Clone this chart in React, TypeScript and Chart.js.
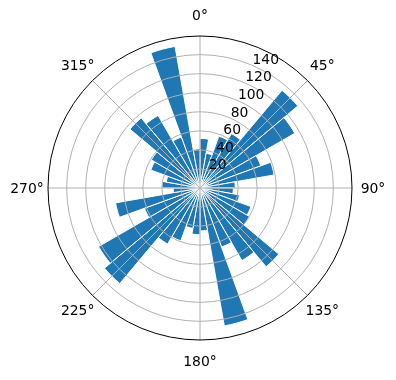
import React, { useEffect, useRef } from "react";
import { Chart, registerables } from "chart.js";

Chart.register(...registerables);

// Bin start angles (degrees), 10° wide bins, clockwise from north
const binStarts: number[] = Array.from({ length: 36 }, (_, i) => i * 10);
const categories: string[] = binStarts.map((d) => `${d}°`);

// Bar lengths
const counts: number[] = [
  52, 37, 58, 66, 134, 115, 68, 79, 37, 35, 42, 57,
  60, 108, 88, 66, 147, 45, 49, 43, 59, 68, 131, 123,
  62, 90, 28, 40, 36, 55, 59, 96, 88, 57, 151, 41,
];

const radialTicks: number[] = [20, 40, 60, 80, 100, 120, 140];
const angleTicks: number[] = [0, 45, 90, 135, 180, 225, 270, 315];
const angleTickLabels: string[] = angleTicks.map((a) => `${a}°`);
const rMax = 159.6;

const FONT = '13.9px "DejaVu Sans"';

const overlayPlugin = {
  id: "polarOverlay",
  afterDatasetsDraw(chart: any) {
    const scale = chart.scales.r;
    const ctx = chart.ctx as CanvasRenderingContext2D;
    const cx = scale.xCenter;
    const cy = scale.yCenter;
    const R = scale.getDistanceFromCenterForValue(rMax);
    ctx.save();
    // radial grid circles
    ctx.strokeStyle = "#b0b0b0";
    ctx.lineWidth = 1;
    for (const v of radialTicks) {
      const r = scale.getDistanceFromCenterForValue(v);
      ctx.beginPath();
      ctx.arc(cx, cy, r, 0, Math.PI * 2);
      ctx.stroke();
    }
    // angular grid spokes
    for (const a of angleTicks) {
      const t = (a * Math.PI) / 180;
      ctx.beginPath();
      ctx.moveTo(cx, cy);
      ctx.lineTo(cx + R * Math.sin(t), cy - R * Math.cos(t));
      ctx.stroke();
    }
    // outer spine
    ctx.strokeStyle = "#000000";
    ctx.lineWidth = 1;
    ctx.beginPath();
    ctx.arc(cx, cy, R, 0, Math.PI * 2);
    ctx.stroke();

    // angle labels
    ctx.fillStyle = "#000000";
    ctx.font = FONT;
    ctx.textAlign = "center";
    ctx.textBaseline = "middle";
    const labR = R + 21;
    angleTicks.forEach((a, i) => {
      const t = (a * Math.PI) / 180;
      ctx.fillText(angleTickLabels[i], cx + labR * Math.sin(t), cy - labR * Math.cos(t) + 1);
    });

    // radial tick labels at 22.5°
    ctx.textAlign = "left";
    ctx.textBaseline = "alphabetic";
    const tl = (22.5 * Math.PI) / 180;
    for (const v of radialTicks) {
      const r = scale.getDistanceFromCenterForValue(v);
      ctx.fillText(String(v), cx + r * Math.sin(tl) + 1.5, cy - r * Math.cos(tl) - 1);
    }
    ctx.restore();
  },
};

export default function App() {
  const ref = useRef<HTMLCanvasElement | null>(null);
  useEffect(() => {
    if (!ref.current) return;
    const chart = new Chart(ref.current, {
      type: "polarArea",
      data: {
        labels: categories,
        datasets: [
          {
            data: counts,
            backgroundColor: "#1f77b4",
            borderColor: "#ffffff",
            borderWidth: 1,
          },
        ],
      },
      options: {
        responsive: false,
        animation: false,
        devicePixelRatio: 1,
        layout: { padding: { left: 48, right: 43, top: 36, bottom: 39 } },
        plugins: { legend: { display: false }, tooltip: { enabled: false } },
        scales: {
          r: {
            min: 0,
            max: rMax,
            startAngle: 0,
            ticks: { display: false },
            grid: { display: false },
            angleLines: { display: false },
            pointLabels: { display: false },
          },
        },
      },
      plugins: [overlayPlugin],
    });
    return () => chart.destroy();
  }, []);
  return (
    <div style={{ position: "absolute", left: 0, top: 0, width: 396, height: 380, background: "#fff" }}>
      <canvas ref={ref} width={396} height={380} />
    </div>
  );
}
